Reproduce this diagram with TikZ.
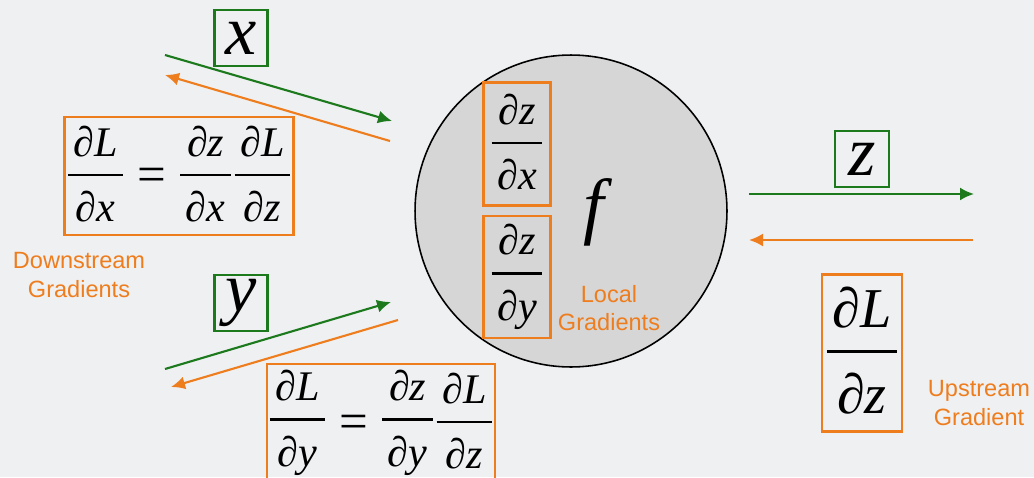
\documentclass[tikz,border=0pt]{standalone}
\usepackage{fontspec}
\newfontfamily\labelfont{Liberation Sans}
\newfontfamily\timesfont{Liberation Serif}
\newcommand{\mi}[1]{\hbox{\timesfont\itshape #1}}
\newcommand{\eqsign}{\lower2.5pt\hbox{\timesfont\fontsize{29}{29}\selectfont =}}
% partial fraction with a heavy bar and loose spacing
\newcommand{\pfrac}[2]{\vcenter{\offinterlineskip\halign{\kern3.2pt\hfil##\hfil\kern3.2pt\cr
  \vrule height .72em depth .08em width 0pt #1\cr
  \noalign{\kern .33em\hrule height 1.5pt\kern .36em}
  \vrule height .72em depth .1em width 0pt #2\cr}}}
\usetikzlibrary{arrows.meta}

\definecolor{gradorange}{RGB}{238,125,30}
\definecolor{fwdgreen}{RGB}{28,122,28}
\definecolor{slidebg}{RGB}{238,240,242}
\definecolor{gategray}{RGB}{214,214,214}

\begin{document}
\begin{tikzpicture}[
  x=0.02cm, y=0.02cm,
  varbox/.style={draw=fwdgreen, line width=1.4pt, inner sep=0pt, minimum width=1.06cm, minimum height=1.12cm, font=\fontsize{40}{40}\selectfont},
  gradbox/.style={draw=gradorange, line width=1.4pt, inner sep=0pt, font=\fontsize{24}{26}\selectfont},
  note/.style={text=gradorange, align=center, font=\labelfont\fontsize{13.4}{16.4}\selectfont},
  fwd/.style={draw=fwdgreen, line width=1.2pt, -{Latex[length=2.8mm,width=2.6mm]}},
  bwd/.style={draw=gradorange, line width=1.2pt, -{Latex[length=2.8mm,width=2.6mm]}}
]

% Slide
\useasboundingbox (0,0) rectangle (1034,-477);
\clip (0,0) rectangle (1034,-477);
\fill[slidebg] (0,0) rectangle (1034,-477);

% Gate with local gradients
\node[circle, draw, line width=0.9pt, fill=gategray, minimum size=6.24cm, inner sep=0pt] (gate) at (571,-211) {};
\node[font=\fontsize{42}{42}\selectfont] (f) at (594,-212) {\mi{f}};
\node[gradbox, minimum width=1.34cm, minimum height=2.46cm] (dzdx) at (517,-144) {$\pfrac{\mi{∂z}}{\mi{∂x}}$};
\node[gradbox, minimum width=1.34cm, minimum height=2.44cm] (dzdy) at (517,-277) {$\pfrac{\mi{∂z}}{\mi{∂y}}$};
\node[note] (local) at (609,-308) {Local\\Gradients};

% Inputs
\node[varbox] (xval) at (241,-38) {\mi{x}};
\node[varbox] (yval) at (241,-303) {\mi{y}};
\coordinate (xin) at (165,-55);
\coordinate (xout) at (392,-121);
\coordinate (xback) at (390,-141);
\coordinate (xleft) at (165,-75);
\coordinate (yin) at (165,-369);
\coordinate (yout) at (391,-302);
\coordinate (yback) at (398,-320);
\coordinate (yleft) at (171,-387);
\draw[fwd] (xin) -- (xout);
\draw[bwd] (xback) -- (xleft);
\draw[fwd] (yin) -- (yout);
\draw[bwd] (yback) -- (yleft);

% Downstream gradients
\node[gradbox, minimum width=4.58cm, minimum height=2.36cm] (dLdx) at (179,-176)
  {$\pfrac{\mi{∂L}}{\mi{∂x}}\kern8pt\eqsign\kern8pt\pfrac{\mi{∂z}}{\mi{∂x}}\kern2pt\pfrac{\mi{∂L}}{\mi{∂z}}$};
\node[gradbox, minimum width=4.56cm, minimum height=2.36cm] (dLdy) at (381,-423)
  {$\pfrac{\mi{∂L}}{\mi{∂y}}\kern8pt\eqsign\kern8pt\pfrac{\mi{∂z}}{\mi{∂y}}\kern2pt\pfrac{\mi{∂L}}{\mi{∂z}}$};
\node[note] (down) at (79,-275) {Downstream\\Gradients};

% Output
\node[varbox, minimum width=1.08cm] (zval) at (862,-159) {\mi{z}};
\coordinate (zin) at (749,-194);
\coordinate (zout) at (974,-194);
\coordinate (zback) at (973,-240);
\coordinate (zleft) at (749,-240);
\draw[fwd] (zin) -- (zout);
\draw[bwd] (zback) -- (zleft);

% Upstream gradient
\node[gradbox, minimum width=1.6cm, minimum height=3.14cm, font=\fontsize{32}{34}\selectfont] (dLdz) at (862,-353)
  {$\pfrac{\mi{∂L}}{\mi{∂z}}$};
\node[note] (up) at (979,-403) {Upstream\\Gradient};

\end{tikzpicture}
\end{document}
